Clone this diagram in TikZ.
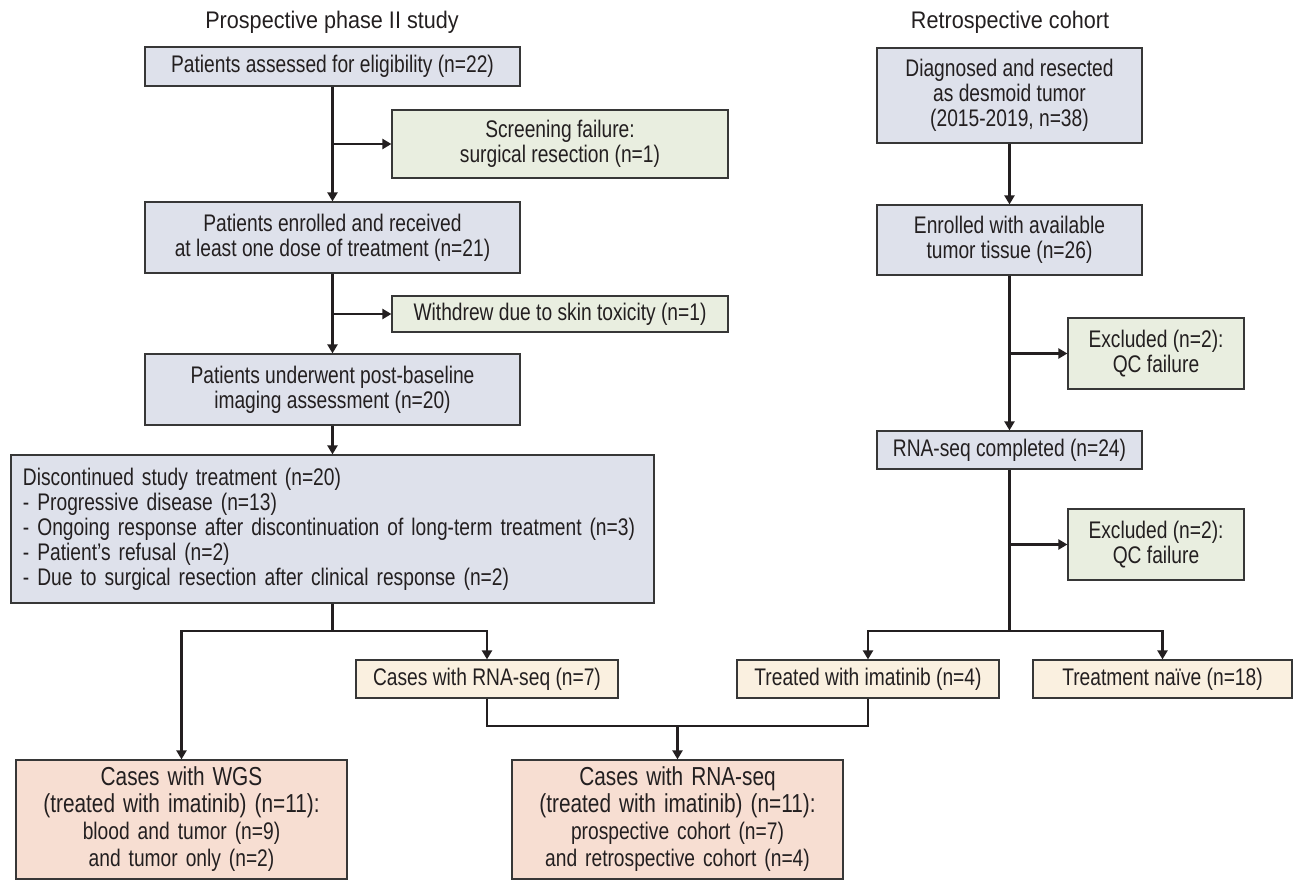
\documentclass[tikz,border=0pt]{standalone}
\usepackage{fontspec}
\setmainfont[FakeStretch=0.80]{Liberation Sans}
\newfontfamily\titlefont[FakeStretch=0.90]{Liberation Sans}
\usetikzlibrary{arrows.meta}
\definecolor{boxline}{RGB}{55,55,55}
\definecolor{bluefill}{RGB}{222,225,235}
\definecolor{greenfill}{RGB}{233,238,224}
\definecolor{beigefill}{RGB}{250,240,224}
\definecolor{pinkfill}{RGB}{247,222,210}
\definecolor{lineclr}{RGB}{35,31,32}
\definecolor{txt}{RGB}{35,31,32}
\tikzset{
  basebox/.style={draw=boxline, line width=1.2pt, inner sep=0pt, align=center, text=txt,
    font=\fontsize{24}{25}\selectfont},
  bbox/.style={basebox, fill=bluefill},
  gbox/.style={basebox, fill=greenfill},
  ybox/.style={basebox, fill=beigefill},
  pbox/.style={basebox, fill=pinkfill, text width=320pt, font=\fontsize{24}{27}\selectfont},
  conn/.style={draw=lineclr, line width=2.8pt},
  arr/.style={conn, -{Triangle[length=9pt,width=10pt]}},
  ttl/.style={text=txt, inner sep=0pt, font=\titlefont\fontsize{24}{25}\selectfont}
}
\begin{document}
\begin{tikzpicture}[x=1pt,y=-1pt]
\useasboundingbox (0,0) rectangle (1294,880);
% titles
\node[ttl] (t1) at (332,22) {Prospective phase II study};
\node[ttl] (t2) at (1010,22) {Retrospective cohort};
% left column
\node[bbox, minimum width=375pt, minimum height=39pt] (A) at (332.5,66.5) {Patients assessed for eligibility (n=22)};
\node[gbox, minimum width=336pt, minimum height=68pt] (B) at (560,144) {Screening failure:\\surgical resection (n=1)};
\node[bbox, minimum width=375pt, minimum height=71pt] (C) at (332.5,237.5) {Patients enrolled and received\\at least one dose of treatment (n=21)};
\node[gbox, minimum width=336pt, minimum height=36pt] (D) at (560,314) {Withdrew due to skin toxicity (n=1)};
\node[bbox, minimum width=375pt, minimum height=71pt] (E) at (332.5,389.5) {Patients underwent post-baseline\\imaging assessment (n=20)};
\node[bbox, minimum width=643pt, minimum height=148pt, text width=619pt, align=left] (F) at (332.5,529) {Discontinued study treatment (n=20)\\- Progressive disease (n=13)\\- Ongoing response after discontinuation of long-term treatment (n=3)\\- Patient’s refusal (n=2)\\- Due to surgical resection after clinical response (n=2)};
% middle row
\node[ybox, minimum width=262pt, minimum height=38pt] (G) at (487,679) {Cases with RNA-seq (n=7)};
\node[ybox, minimum width=262pt, minimum height=38pt] (H) at (868,679) {Treated with imatinib (n=4)};
\node[ybox, minimum width=259pt, minimum height=38pt] (I) at (1162.5,679) {Treatment naïve (n=18)};
% bottom
\node[pbox, minimum width=331pt, minimum height=119pt] (W) at (181.5,819.5) {\fontsize{26}{27}\selectfont Cases with WGS\\(treated with imatinib) (n=11):\\\fontsize{24}{27}\selectfont blood and tumor (n=9)\\and tumor only (n=2)};
\node[pbox, minimum width=331pt, minimum height=119pt] (L) at (677.5,819.5) {\fontsize{26}{27}\selectfont Cases with RNA-seq\\(treated with imatinib) (n=11):\\\fontsize{24}{27}\selectfont prospective cohort (n=7)\\and retrospective cohort (n=4)};
% right column
\node[bbox, minimum width=265pt, minimum height=95pt] (J) at (1009.5,95.5) {Diagnosed and resected\\as desmoid tumor\\(2015-2019, n=38)};
\node[bbox, minimum width=265pt, minimum height=70pt] (K) at (1009.5,240) {Enrolled with available\\tumor tissue (n=26)};
\node[gbox, minimum width=176pt, minimum height=71pt] (X1) at (1156,353.5) {Excluded (n=2):\\QC failure};
\node[bbox, minimum width=265pt, minimum height=38pt] (M) at (1009.5,450) {RNA-seq completed (n=24)};
\node[gbox, minimum width=176pt, minimum height=71pt] (X2) at (1156,544.5) {Excluded (n=2):\\QC failure};
% connectors left
\draw[arr] (A.south) -- (C.north);
\coordinate (b1) at (A.south |- B.west);
\draw[arr] (b1) -- (B.west);
\draw[arr] (C.south) -- (E.north);
\coordinate (b2) at (C.south |- D.west);
\draw[arr] (b2) -- (D.west);
\draw[arr] (E.south) -- (F.north);
\coordinate (s1) at (332.5,631);
\draw[conn] (F.south) -- (s1);
\draw[arr] (s1) -| (W.north);
\draw[arr] (s1) -| (G.north);
% join to RNA-seq
\coordinate (j) at (677.5,726);
\draw[conn] (G.south) |- (j);
\draw[conn] (H.south) |- (j);
\draw[arr] (j) -- (L.north);
% connectors right
\draw[arr] (J.south) -- (K.north);
\draw[arr] (K.south) -- (M.north);
\coordinate (b3) at (K.south |- X1.west);
\draw[arr] (b3) -- (X1.west);
\coordinate (s2) at (1009.5,631);
\draw[conn] (M.south) -- (s2);
\coordinate (b4) at (M.south |- X2.west);
\draw[arr] (b4) -- (X2.west);
\draw[arr] (s2) -| (H.north);
\draw[arr] (s2) -| (I.north);
\end{tikzpicture}
\end{document}
